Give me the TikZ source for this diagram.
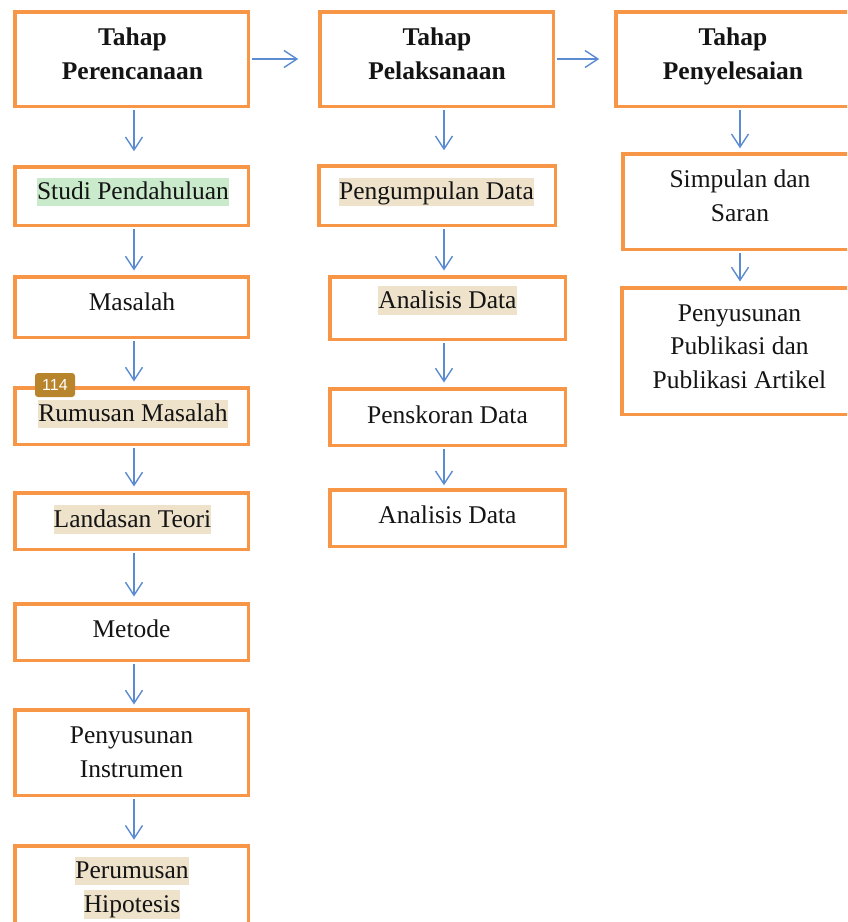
\documentclass[tikz,border=0pt]{standalone}
\usepackage{fontspec}
\setmainfont{Liberation Serif}
\newfontfamily\badgefont{Liberation Sans}
\usetikzlibrary{arrows.meta}
\definecolor{boxorange}{HTML}{F79646}
\definecolor{arrblue}{HTML}{5B8BD0}
\definecolor{hlgreen}{HTML}{C9EBCB}
\definecolor{hltan}{HTML}{EEE2CB}
\definecolor{badgebrown}{HTML}{B8842C}
\newcommand\hlbox[2]{\begingroup\setlength{\fboxsep}{0pt}\colorbox{#1}{\rule[-0.27em]{0pt}{1.13em}#2}\endgroup}
\tikzset{
  box/.style={draw=boxorange, line width=3.5pt, fill=white, inner sep=0pt},
  txt/.style={inner sep=0pt, align=center, anchor=base, text=black!92,
    font=\fontsize{25.5}{33.5}\selectfont},
  arr/.style={draw=arrblue, line width=1.4pt, shorten <=1.75pt,
    -{Straight Barb[length=13pt,width=17pt,line width=1.4pt]}},
  badge/.style={fill=badgebrown, rounded corners=3pt, inner sep=0pt,
    minimum width=40pt, minimum height=24pt, text=white,
    font=\badgefont\fontsize{16}{16}\selectfont}
}
\begin{document}
\begin{tikzpicture}[x=1pt,y=-1pt]
\useasboundingbox (0,0) rectangle (847,922);
\clip (0,0) rectangle (847,922);
% column coordinates for vertical arrows
\coordinate (c1) at (134,0);
\coordinate (c2) at (444,0);
\coordinate (c3) at (740,0);
% column 1 boxes
\node[box, minimum width=233.5pt, minimum height=94.5pt] (A1) at (131.5,59) {};
\node[box, minimum width=233.5pt, minimum height=58.5pt] (A2) at (131.5,196) {};
\node[box, minimum width=233.5pt, minimum height=60.5pt] (A3) at (131.5,307) {};
\node[box, minimum width=233.5pt, minimum height=56.5pt] (A4) at (131.5,416) {};
\node[box, minimum width=233.5pt, minimum height=56.5pt] (A5) at (131.5,521) {};
\node[box, minimum width=233.5pt, minimum height=56.5pt] (A6) at (131.5,632) {};
\node[box, minimum width=233.5pt, minimum height=85.5pt] (A7) at (131.5,752.5) {};
\node[box, minimum width=233.5pt, minimum height=88pt] (A8) at (131.5,890) {};
% column 2 boxes
\node[box, minimum width=233.5pt, minimum height=94.5pt] (B1) at (436.5,59) {};
\node[box, minimum width=236.5pt, minimum height=59.5pt] (B2) at (437,195.5) {};
\node[box, minimum width=235.5pt, minimum height=62.5pt] (B3) at (447.5,308) {};
\node[box, minimum width=235.5pt, minimum height=56.5pt] (B4) at (447.5,417) {};
\node[box, minimum width=235.5pt, minimum height=56.5pt] (B5) at (447.5,518) {};
% column 3 boxes
\node[box, minimum width=234.5pt, minimum height=94.5pt] (C1) at (733,59) {};
\node[box, minimum width=234.5pt, minimum height=95.5pt] (C2) at (740,201.5) {};
\node[box, minimum width=235.5pt, minimum height=126.5pt] (C3) at (739.5,351) {};
% texts (multi-line texts are anchored at the baseline of their last line)
\node[txt] (A1t) at (132.5,79) {\textbf{Tahap}\\\textbf{Perencanaan}};
\node[txt] (A2t) at (133,199.5) {\hlbox{hlgreen}{Studi Pendahuluan}};
\node[txt] (A3t) at (132,310) {Masalah};
\node[txt] (A4t) at (133,421.5) {\hlbox{hltan}{Rumusan Masalah}};
\node[txt] (A5t) at (132.5,527) {\hlbox{hltan}{Landasan Teori}};
\node[txt] (A6t) at (131.5,637) {Metode};
\node[txt] (A7t) at (131.5,777) {Penyusunan\\Instrumen};
\node[txt] (A8t) at (132,912) {\hlbox{hltan}{Perumusan}\\\hlbox{hltan}{Hipotesis}};
\node[txt] (B1t) at (437,79) {\textbf{Tahap}\\\textbf{Pelaksanaan}};
\node[txt] (B2t) at (436.5,199.5) {\hlbox{hltan}{Pengumpulan Data}};
\node[txt] (B3t) at (447.5,308) {\hlbox{hltan}{Analisis Data}};
\node[txt] (B4t) at (447.5,423) {Penskoran Data};
\node[txt] (B5t) at (447.5,523.5) {Analisis Data};
\node[txt] (C1t) at (733,79) {\textbf{Tahap}\\\textbf{Penyelesaian}};
\node[txt] (C2t) at (740,221) {Simpulan dan\\Saran};
\node[txt] (C3t) at (739.5,388) {Penyusunan\\Publikasi dan\\Publikasi Artikel};
% badge
\node[badge] (bdg) at (55,385) {114};
% horizontal arrows
\draw[arr, shorten >=19.75pt] (A1.east) -- (B1.west);
\draw[arr, shorten >=14.75pt] (B1.east) -- (C1.west);
% vertical arrows column 1
\draw[arr, shorten >=13.75pt] (A1.south -| c1) -- (A2.north -| c1);
\draw[arr, shorten >=4.5pt] (A2.south -| c1) -- (A3.north -| c1);
\draw[arr, shorten >=4.5pt] (A3.south -| c1) -- (A4.north -| c1);
\draw[arr, shorten >=4.5pt] (A4.south -| c1) -- (A5.north -| c1);
\draw[arr, shorten >=5.5pt] (A5.south -| c1) -- (A6.north -| c1);
\draw[arr, shorten >=3.5pt] (A6.south -| c1) -- (A7.north -| c1);
\draw[arr, shorten >=4.5pt] (A7.south -| c1) -- (A8.north -| c1);
% vertical arrows column 2
\draw[arr, shorten >=13.75pt] (B1.south -| c2) -- (B2.north -| c2);
\draw[arr, shorten >=4.5pt] (B2.south -| c2) -- (B3.north -| c2);
\draw[arr, shorten >=4.5pt] (B3.south -| c2) -- (B4.north -| c2);
\draw[arr, shorten >=2.75pt] (B4.south -| c2) -- (B5.north -| c2);
% vertical arrows column 3
\draw[arr, shorten >=3.75pt] (C1.south -| c3) -- (C2.north -| c3);
\draw[arr, shorten >=4.5pt] (C2.south -| c3) -- (C3.north -| c3);
\end{tikzpicture}
\end{document}
